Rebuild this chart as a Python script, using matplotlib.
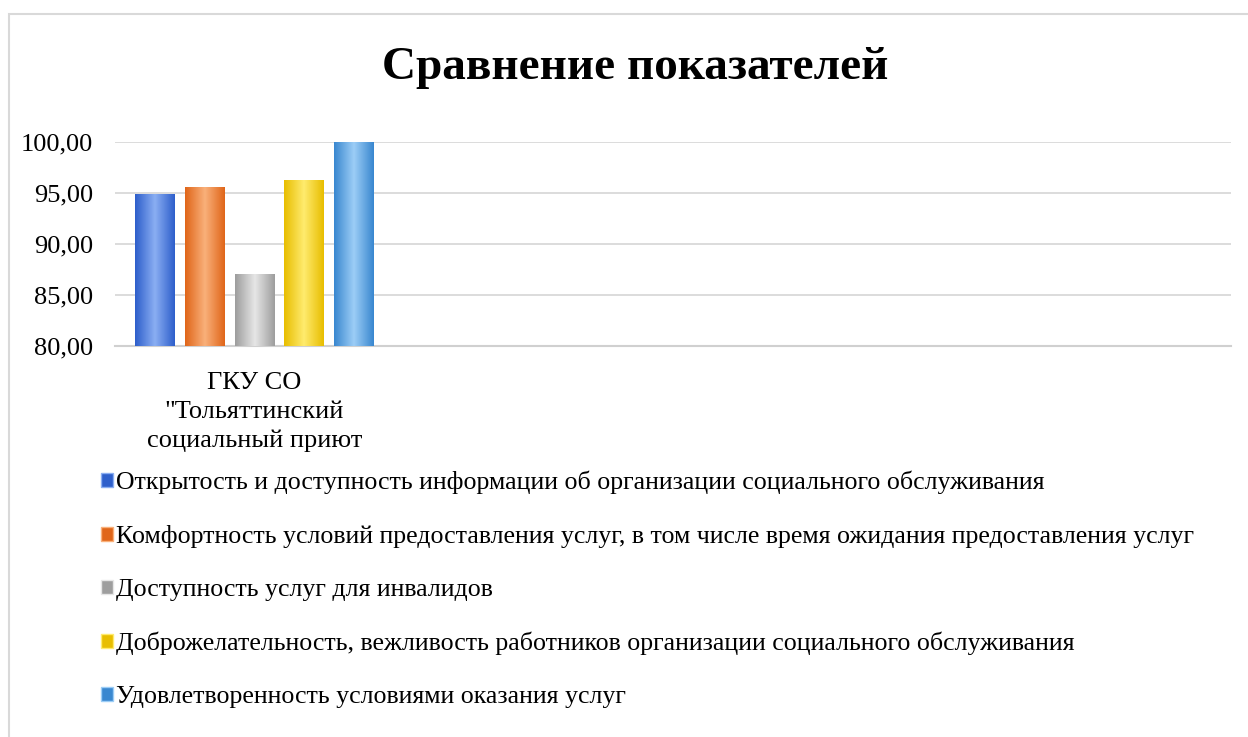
import numpy as np
import matplotlib.pyplot as plt
from matplotlib.colors import LinearSegmentedColormap
from matplotlib.patches import Patch, Rectangle

plt.rcParams["font.family"] = ["Liberation Serif", "DejaVu Serif"]

TITLE = "Сравнение показателей"
CATEGORIES = ['ГКУ СО\n"Тольяттинский\nсоциальный приют', "", "", ""]
SERIES = [
    "Открытость и доступность информации об организации социального обслуживания",
    "Комфортность условий предоставления услуг, в том числе время ожидания предоставления услуг",
    "Доступность услуг для инвалидов",
    "Доброжелательность, вежливость работников организации социального обслуживания",
    "Удовлетворенность условиями оказания услуг",
]
VALUES = [94.9, 95.6, 87.1, 96.3, 100.0]
Y_TICKS = [80, 85, 90, 95, 100]

# dark edge, light centre for a glossy bar look
COLORS = [
    ("#2E5FCB", "#8AAEF2"),
    ("#E0661A", "#F9B07A"),
    ("#9E9E9E", "#E6E6E6"),
    ("#E8BE00", "#FFEB6E"),
    ("#3A88D0", "#9CCDF6"),
]

fig = plt.figure(figsize=(12.48, 7.37), dpi=100)
ax = fig.add_axes([115 / 1248, 1 - 346 / 737, (1231 - 115) / 1248, (346 - 142) / 737])

width = 0.143
step = 0.179
x0 = 0
grad = np.concatenate([np.linspace(0, 1, 30), np.linspace(1, 0, 30)[1:]])[None, :]
for i, (val, (dark, light)) in enumerate(zip(VALUES, COLORS)):
    xc = x0 + (i - 2) * step
    bar = ax.bar(xc, val - 80, width=width, bottom=80, color=dark, zorder=3)[0]
    cmap = LinearSegmentedColormap.from_list(f"g{i}", [dark, light])
    im = ax.imshow(grad, cmap=cmap, aspect="auto", zorder=4,
                   extent=(xc - width / 2, xc + width / 2, 80, val))
    im.set_clip_path(bar)

ax.set_xlim(-0.5, len(CATEGORIES) - 0.5)
ax.set_ylim(80, 100)
ax.set_yticks(Y_TICKS)
ax.set_yticklabels([f"{v:.2f}".replace(".", ",") for v in Y_TICKS], fontsize=19)
ax.set_xticks(range(len(CATEGORIES)))
ax.set_xticklabels(CATEGORIES, fontsize=19, linespacing=1.38, va="top")
ax.tick_params(axis="both", length=0)
ax.tick_params(axis="y", pad=16)
ax.tick_params(axis="x", pad=19)
ax.grid(axis="y", color="#D9D9D9", linewidth=1.3, zorder=0)
for side in ["left", "right", "top"]:
    ax.spines[side].set_visible(False)
ax.spines["bottom"].set_color("#D0D0D0")
ax.spines["bottom"].set_linewidth(1.5)

fig.text(635 / 1248, 1 - 68 / 737, TITLE, ha="center", va="center", fontsize=34, fontweight="bold")

handles = [Patch(facecolor=c[0], edgecolor=c[1], linewidth=1) for c in COLORS]
fig.legend(handles, SERIES, loc="upper left", bbox_to_anchor=(101 / 1248, 1 - 471 / 737),
           frameon=False, fontsize=18.6, handlelength=0.45, handleheight=0.45,
           handletextpad=0.15, labelspacing=1.19, borderaxespad=0, borderpad=0)

fig.patches.append(Rectangle((9 / 1248, -0.1), 1.2, 1 - 14 / 737 + 0.1, transform=fig.transFigure,
                             fill=False, edgecolor="#D9D9D9", linewidth=1.5))

fig.savefig("out.png", dpi=100, facecolor="white")
